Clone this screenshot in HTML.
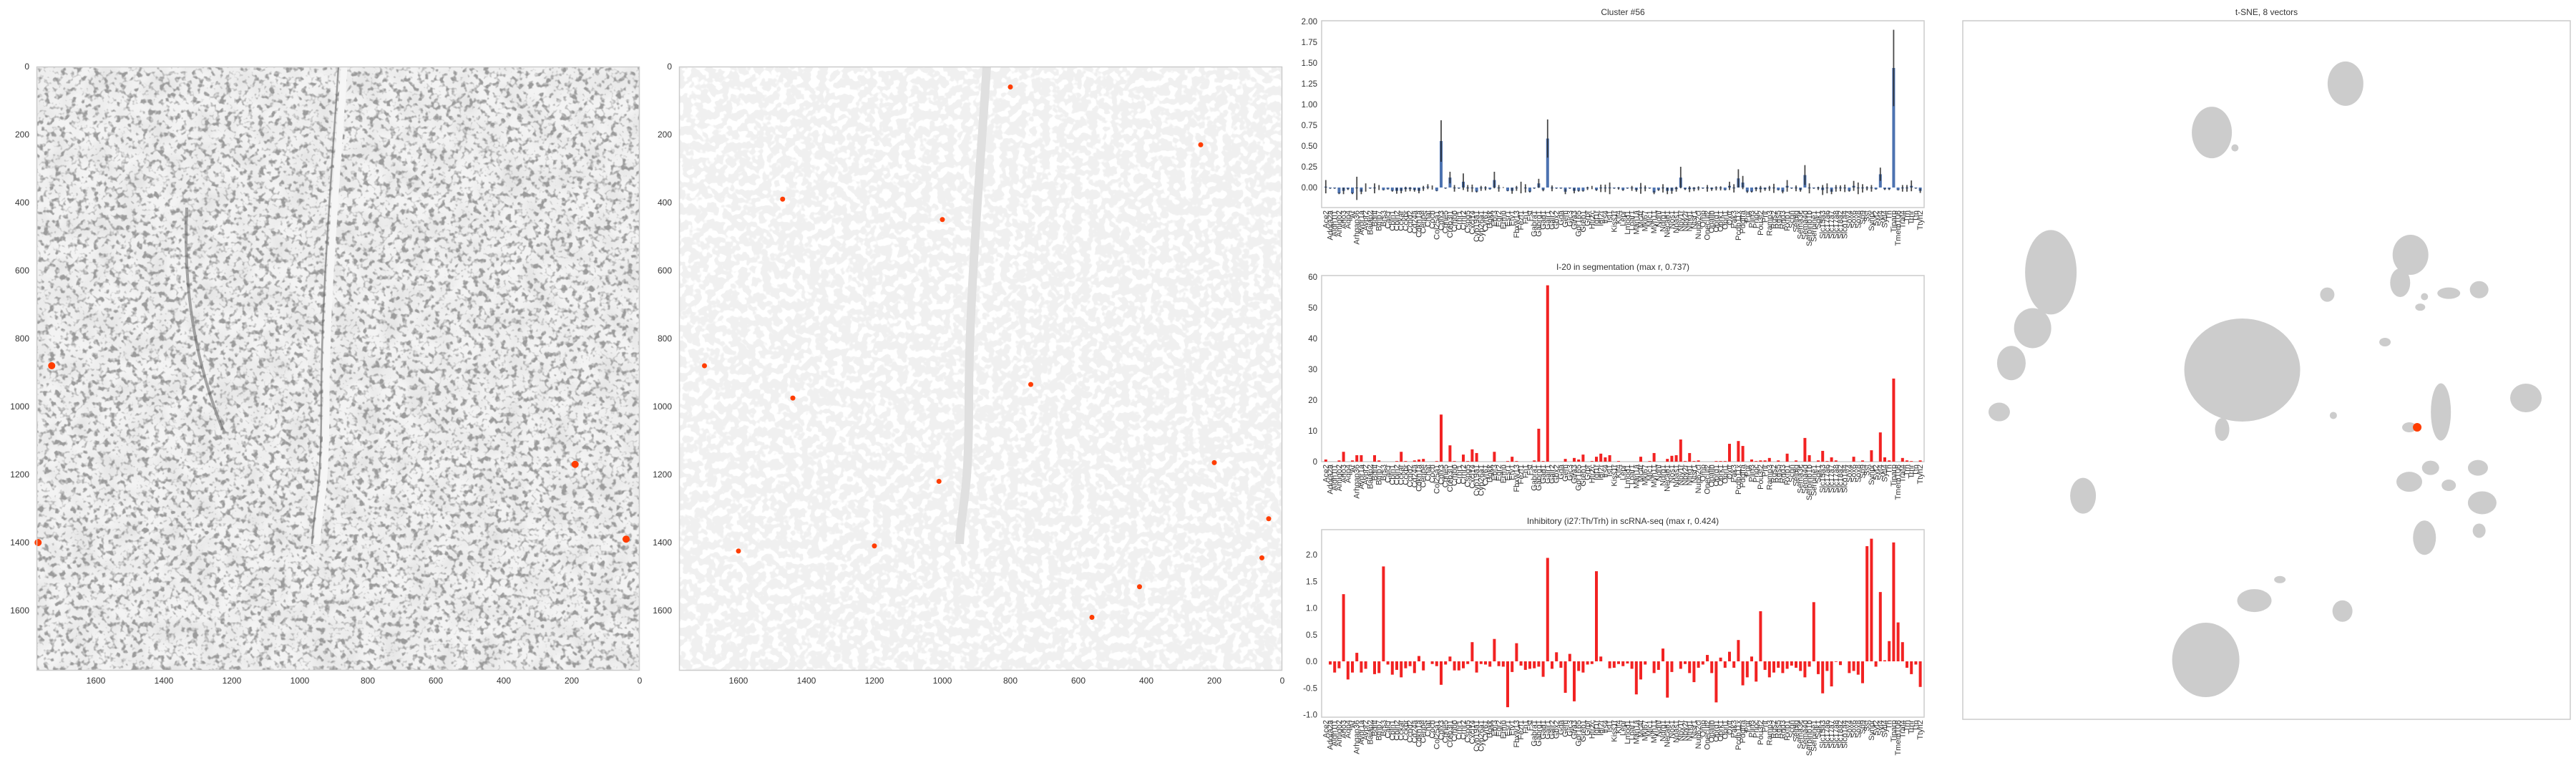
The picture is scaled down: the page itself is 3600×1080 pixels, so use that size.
<!DOCTYPE html>
<html><head><meta charset="utf-8">
<style>
html,body{margin:0;padding:0;background:#fff;}
svg{display:block;}
text{font-family:"Liberation Sans","DejaVu Sans",sans-serif;fill:#333;}
</style></head>
<body>
<svg id="root" width="3600" height="1080" viewBox="0 0 3600 1080" xmlns="http://www.w3.org/2000/svg">
<defs>
  <filter id="tissue1" x="0" y="0" width="100%" height="100%">
    <feTurbulence type="fractalNoise" baseFrequency="0.13" numOctaves="2" seed="7" result="n"/>
    <feColorMatrix in="n" type="matrix" values="0 0 0 0 0.33  0 0 0 0 0.33  0 0 0 0 0.33  5 0 0 0 -2.55"/>
  </filter>
  <filter id="tissue1b" x="0" y="0" width="100%" height="100%">
    <feTurbulence type="fractalNoise" baseFrequency="0.03" numOctaves="2" seed="3" result="n"/>
    <feColorMatrix in="n" type="matrix" values="0 0 0 0 0.75  0 0 0 0 0.75  0 0 0 0 0.75  1.6 0 0 0 -0.55"/>
  </filter>
  <filter id="tissue2" x="0" y="0" width="100%" height="100%">
    <feTurbulence type="fractalNoise" baseFrequency="0.09" numOctaves="2" seed="11" result="n"/>
    <feColorMatrix in="n" type="matrix" values="0 0 0 0 0.87  0 0 0 0 0.87  0 0 0 0 0.87  12 0 0 0 -5.0"/>
  </filter>
</defs>
<g id="imgpanels"></g>
<g id="charts"></g>
<g id="tsne"></g>
</svg>
<script>
// ===== chart data =====
const genes = ["Ace2","Adora2a","Aldh1l1","Amigo2","Ano3","Aqp4","Ar","Arhgap36","Avpr1a","Avpr2","Baiap2","Bdnf","Bmp7","Brs3","Calcr","Cbln1","Cbln2","Cckar","Cckbr","Ccnd2","Cd24a","Cdkn1a","Cenpe","Chat","Coch","Col25a1","Cplx3","Cpne5","Creb3l1","Crhbp","Crhr1","Crhr2","Cspg5","Cxcl14","Cyp19a1","Cyp26a1","Cyr61","Dgkk","Ebf3","Egr2","Ermn","Esr1","Etv1","Fbxw13","Fezf1","Fn1","Fst","Gabra1","Gabrg1","Gad1","Galr1","Galr2","Gbx2","Gda","Gem","Gjc3","Glra3","Gpr165","Greb1","Grpr","Htr2c","Igf1r","Igf2r","Irs4","Isl1","Kiss1r","Klf4","Lepr","Lmod1","Lpar1","Man1a","Mc4r","Mki67","Mlc1","Myh11","Ndnf","Ndrg1","Necab1","Nos1","Npas1","Npy1r","Npy2r","Ntng1","Ntsr1","Nup62cl","Omp","Onecut2","Opalin","Oprd1","Oprk1","Oprl1","Oxtr","Pak3","Pcdh11x","Pdgfra","Pgr","Plin3","Pnoc","Pou3f2","Prlr","Ramp3","Rgs2","Rgs5","Rnd3","Rxfp1","Scgn","Selplg","Sema3c","Sema4d","Serpinb1b","Serpine1","Sgk1","Slc15a3","Slc17a6","Slc17a7","Slc17a8","Slc18a2","Slco1a4","Sox4","Sox6","Sox8","Sp9","Sst","Synpr","Syt2","Syt4","Sytl4","Th","Tiparp","Tmem108","Traf4","Trh","Trhr","Ttn","Ttyh2"];
const clusterMean = [0.01,-0.01,-0.01,-0.07,-0.04,-0.02,-0.07,-0.01,-0.05,0.00,
-0.01,-0.01,0.00,-0.03,-0.02,-0.04,-0.04,-0.04,-0.02,-0.02,
-0.03,-0.04,-0.01,0.01,0.00,-0.04,0.56,-0.01,0.12,-0.01,
-0.01,0.07,-0.01,-0.01,-0.05,-0.01,-0.01,-0.02,0.09,-0.01,
0.00,-0.04,-0.04,-0.01,0.00,-0.01,-0.05,-0.01,0.05,-0.03,
0.59,-0.01,-0.01,-0.01,-0.05,-0.01,-0.04,-0.04,-0.04,-0.01,
0.00,-0.03,-0.01,-0.01,-0.01,-0.01,-0.01,-0.03,-0.01,-0.01,
-0.03,-0.01,-0.01,-0.01,-0.06,-0.03,-0.01,-0.04,-0.04,-0.02,
0.12,-0.02,-0.02,-0.02,-0.01,-0.01,-0.01,-0.02,-0.01,-0.01,
-0.03,0.02,-0.01,0.11,0.06,-0.05,-0.05,-0.02,-0.02,-0.02,
-0.01,-0.01,-0.03,-0.05,0.02,-0.01,-0.01,-0.03,0.15,-0.01,
-0.01,-0.01,-0.03,-0.01,-0.05,-0.01,-0.01,-0.01,-0.04,0.02,
-0.01,-0.01,-0.01,-0.01,-0.02,0.16,-0.02,-0.02,1.44,-0.03,
-0.01,-0.01,0.02,-0.01,-0.04];
const clusterErr = [.08,.005,.005,.01,.04,.01,.01,.14,.03,.05,
.005,.06,.03,.005,.005,.01,.035,.03,.03,.025,
.02,.03,.03,.03,.025,.005,.25,.005,.07,.04,
.005,.1,.04,.045,.01,.03,.025,.005,.1,.04,
.005,.005,.035,.03,.07,.05,.01,.005,.055,.015,
.23,.035,.005,.005,.03,.005,.03,.01,.01,.02,
.02,.01,.045,.045,.07,.005,.015,.01,.005,.03,
.02,.065,.035,.005,.02,.01,.05,.04,.035,.03,
.13,.01,.035,.025,.025,.005,.04,.02,.025,.025,
.005,.05,.05,.11,.08,.015,.01,.025,.04,.02,
.03,.055,.005,.02,.07,.005,.035,.02,.12,.06,
.005,.02,.06,.06,.03,.04,.035,.045,.01,.06,
.07,.05,.025,.04,.005,.08,.01,.01,.46,.005,
.04,.04,.065,.005,.025];
const segValues = [.7,0,0,.4,3.2,0,.4,2.1,2.1,0,
0,2.1,.4,0,0,0,.2,3.2,.2,0,
.4,.7,.9,0,0,.2,15.3,0,5.3,.2,
0,2.3,.2,4.0,2.8,0,0,0,3.2,0,
0,.2,1.6,.2,0,0,0,.4,10.7,.2,
57.3,0,0,0,.9,0,1.2,.7,2.3,0,
.2,1.6,2.6,1.4,2.1,0,.2,0,0,0,
0,1.6,0,.2,2.8,0,0,.9,1.9,2.1,
7.2,.2,2.8,.2,.4,0,0,0,.2,.2,
.2,5.8,0,6.7,5.1,0,.7,.2,.4,.4,
1.2,0,.4,0,2.6,0,.4,0,7.7,2.1,
0,.4,3.5,.2,1.4,.4,0,0,0,1.6,
0,.4,0,3.7,0,9.5,1.4,.4,27.0,0,
1.2,.4,.2,0,.4];
const rnaValues = [0,
-.06,-.21,-.13,1.26,-.34,-.21,.16,-.21,-.14,0,
-.24,-.22,1.78,-.06,-.25,-.16,-.30,-.13,-.09,-.22,
.10,-.17,0,-.05,-.09,-.44,-.06,.09,-.17,-.17,
-.13,-.05,.36,-.21,-.05,-.06,-.10,.42,-.09,-.10,
-.86,-.20,.34,-.08,-.16,-.14,-.13,-.10,-.29,1.94,
-.14,.17,-.12,-.59,.14,-.75,-.18,-.21,-.06,-.05,
1.69,.09,0,-.13,-.12,-.05,-.09,
-.04,-.14,-.62,-.34,-.06,0,-.22,-.16,.24,-.68,
-.20,0,-.14,-.05,-.22,-.39,-.12,-.06,.12,-.22,
-.77,.07,-.12,.18,-.12,.40,-.45,-.30,.09,-.38,
.94,-.16,-.30,-.21,-.12,-.22,-.14,-.08,-.12,-.18,
-.30,-.10,1.11,-.24,-.60,-.18,-.47,-.01,-.07,0,
-.22,-.18,-.25,-.41,2.16,2.30,-.10,1.30,.02,.38,
2.23,.73,.36,-.12,-.24,-.06,-.48];
const clusterTicks = [0,0.25,0.5,0.75,1.0,1.25,1.5,1.75,2.0];
const segTicks = [0,10,20,30,40,50,60];
const rnaTicks = [-1.0,-0.5,0.0,0.5,1.0,1.5,2.0];
const imgTicks = [0,200,400,600,800,1000,1200,1400,1600];
const hotspots1 = [[1730,880],[190,1170],[40,1390],[1770,1400]];
const hotspots2 = [[1700,880],[1440,975],[740,935],[800,60],[40,1330],[200,1165],[60,1445],[1600,1425],[420,1530],[1470,390],[1000,450],[240,230],[560,1620],[1200,1410],[1010,1220]];
const tsneBlobs = [[0.63,0.09,25,31],[0.41,0.16,28,36],[0.448,0.182,5,5],[0.145,0.36,36,59],[0.115,0.44,26,28],[0.08,0.49,20,24],[0.06,0.56,15,13],[0.46,0.50,81,72],[0.427,0.585,10,16],[0.198,0.68,18,25],[0.40,0.915,47,52],[0.48,0.83,24,16],[0.522,0.80,8,5],[0.625,0.845,14,15],[0.737,0.335,25,28],[0.72,0.375,14,20],[0.85,0.385,13,12],[0.80,0.39,16,8],[0.927,0.54,22,20],[0.787,0.56,14,40],[0.735,0.582,10,7],[0.735,0.66,18,14],[0.848,0.64,14,11],[0.855,0.69,20,16],[0.76,0.74,16,24],[0.85,0.73,9,10],[0.80,0.665,10,8],[0.77,0.64,12,10],[0.60,0.392,10,10],[0.695,0.46,8,6],[0.61,0.565,5,5],[0.76,0.395,5,5],[0.753,0.41,7,5]];
const tsneRed = [0.748,0.582];

const NS='http://www.w3.org/2000/svg';
function mk(tag, attrs, parent){const e=document.createElementNS(NS,tag);for(const k in attrs)e.setAttribute(k,attrs[k]);if(parent)parent.appendChild(e);return e;}

// ===== image panels =====
const ip = document.getElementById('imgpanels');
function imagePanel(x0, filterId, hot, dark, nm){
  const W=843, H=844, S=0.475;
  const g = mk('g',{},ip);
  
  
  mk('rect',{x:x0,y:93,width:W,height:H,fill:dark?'#f3f3f3':'#fff'},g);
  if(dark) mk('rect',{x:x0,y:93,width:W,height:H,filter:'url(#tissue1b)'},g);
  mk('rect',{x:x0,y:93,width:W,height:H,filter:'url(#'+filterId+')'},g);
  const f = mk('path',{d:`M${x0+430} 93 C ${x0+420} 250, ${x0+405} 420, ${x0+405} 560 S ${x0+395} 700, ${x0+392} 760`,fill:'none',stroke:dark?'#f6f6f6':'#e0e0e0','stroke-width':dark?9:12},g);
  
  
  if(dark){
    mk('path',{d:`M${x0+422} 93 C ${x0+412} 250, ${x0+398} 420, ${x0+398} 560 S ${x0+388} 700, ${x0+385} 760`,fill:'none',stroke:'#666','stroke-width':2.5,opacity:0.6},g);
    mk('path',{d:`M${x0+210} 290 C ${x0+205} 400, ${x0+220} 500, ${x0+260} 600`,fill:'none',stroke:'#555','stroke-width':4,opacity:0.5},g);
  }
  hot.forEach(p=>{
    const c = mk('circle',{cx:x0+W-p[0]*S, cy:93+p[1]*S, r: dark?5:3.5, fill:'#ff3d00'},g);
    
    
  });
  mk('rect',{x:x0+0.5,y:93.5,width:W-1,height:H-1,fill:'none',stroke:'#cccccc','stroke-width':1.5},g);
  imgTicks.forEach(v=>{
    const ty = mk('text',{x:x0-10,y:93+v*S+4,'font-size':12,'text-anchor':'end'},g);
    ty.textContent=v;
    
    
    const tx = mk('text',{x:x0+W-v*S,y:955,'font-size':12,'text-anchor':'middle'},g);
    tx.textContent=v;
    
    
  });
}
imagePanel(51,'tissue1',hotspots1,true,'tissue-image-panel');
imagePanel(949,'tissue2',hotspots2,false,'segmentation-image-panel');

// ===== bar charts =====
const ch = document.getElementById('charts');
const AX_L=1847, AX_R=2689;
const xC = i => 1852.8 + 6.2*i;
function barChart(opt){
  const g = mk('g',{},ch);
  
  
  const y = v => opt.y0 - v*opt.k;
  mk('rect',{x:AX_L,y:opt.top,width:AX_R-AX_L,height:opt.bot-opt.top,fill:'#fff',stroke:'#cccccc','stroke-width':1.5},g);
  const t = mk('text',{x:(AX_L+AX_R)/2,y:opt.top-8,'font-size':12,'text-anchor':'middle'},g);
  t.textContent = opt.title;
  
  
  opt.ticks.forEach(v=>{
    const tt = mk('text',{x:AX_L-6,y:y(v)+4,'font-size':11.5,'text-anchor':'end'},g);
    tt.textContent = opt.fmt(v);
    
    
  });
  opt.vals.forEach((v,i)=>{
    if(v===0) return;
    const y1=y(Math.max(v,0)), y2=y(Math.min(v,0));
    const r = mk('rect',{x:xC(i)-2,y:y1,width:4,height:Math.max(y2-y1,0.8),fill:opt.color},g);
    
    
  });
  if(opt.err){
    opt.vals.forEach((v,i)=>{
      const e=opt.err[i];
      const l = mk('line',{x1:xC(i),x2:xC(i),y1:y(v+e),y2:y(v-e),stroke:'#2b2b2b','stroke-width':1.8,opacity:0.85},g);
      
      
    });
  }
  genes.forEach((gn,i)=>{
    const lx=xC(i)+3.5, ly=opt.bot+4;
    const tl = mk('text',{x:lx,y:ly,'font-size':11,'text-anchor':'end',transform:`rotate(-90 ${lx} ${ly})`},g);
    tl.textContent = gn;
    
    
  });
}
barChart({name:'cluster-bar-chart',title:'Cluster #56',top:29,bot:290,y0:262,k:116,ticks:clusterTicks,fmt:v=>v.toFixed(2),vals:clusterMean,err:clusterErr,color:'#4c72b0'});
barChart({name:'segmentation-bar-chart',title:'I-20 in segmentation (max r, 0.737)',top:385,bot:645,y0:645,k:4.3,ticks:segTicks,fmt:v=>String(v),vals:segValues,color:'#f22222'});
barChart({name:'scrna-bar-chart',title:'Inhibitory (i27:Th/Trh) in scRNA-seq (max r, 0.424)',top:740,bot:1002,y0:924,k:74.5,ticks:rnaTicks,fmt:v=>v.toFixed(1),vals:rnaValues,color:'#f22222'});

// ===== t-SNE =====
const ts = document.getElementById('tsne');
const TX0=2743, TX1=3592, TY0=29, TY1=1005;
const tx = f => TX0 + f*(TX1-TX0);
const ty = f => TY0 + f*(TY1-TY0);
const tg = mk('g',{},ts);


mk('rect',{x:TX0,y:TY0,width:TX1-TX0,height:TY1-TY0,fill:'#fff',stroke:'#cccccc','stroke-width':1.5},tg);
const tt = mk('text',{x:(TX0+TX1)/2,y:TY0-8,'font-size':12,'text-anchor':'middle'},tg);
tt.textContent='t-SNE, 8 vectors';


tsneBlobs.forEach(b=>{
  const e = mk('ellipse',{cx:tx(b[0]),cy:ty(b[1]),rx:b[2],ry:b[3],fill:'#cccccc'},tg);
  
  
});
const rd = mk('circle',{cx:tx(tsneRed[0]),cy:ty(tsneRed[1]),r:6,fill:'#ff3d00'},tg);


</script>
</body></html>
